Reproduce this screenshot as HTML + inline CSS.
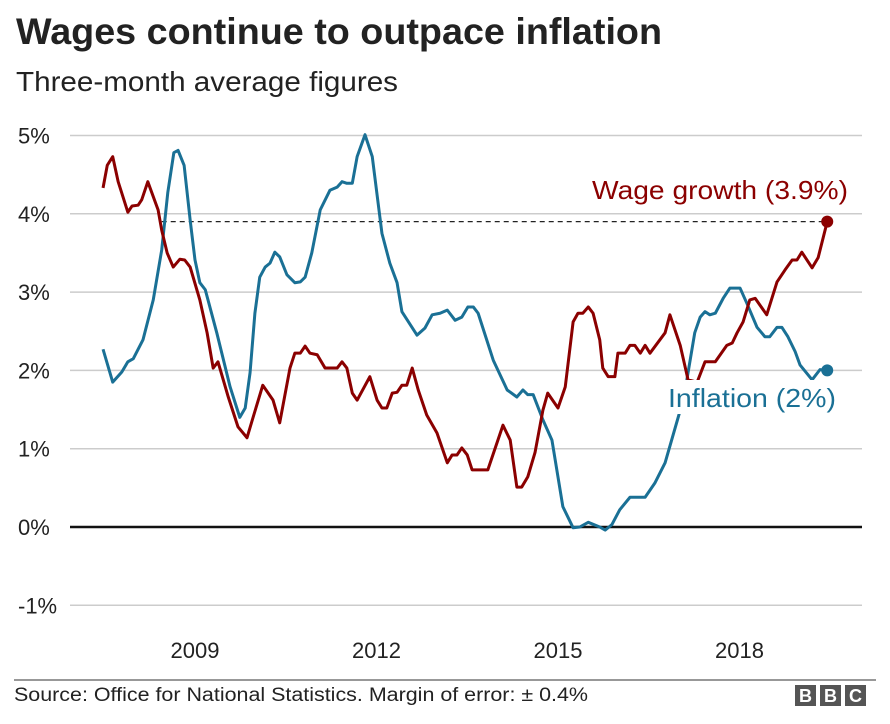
<!DOCTYPE html>
<html><head><meta charset="utf-8">
<style>
body{margin:0;background:#fff;width:890px;height:719px;overflow:hidden;font-family:"Liberation Sans",Arial,sans-serif;}
</style></head>
<body>
<svg id="chart" width="890" height="719" xmlns="http://www.w3.org/2000/svg" font-family="Liberation Sans, Arial, sans-serif">
<text x="16" y="44" font-size="37" font-weight="bold" fill="#222" textLength="646" lengthAdjust="spacingAndGlyphs">Wages continue to outpace inflation</text>
<text x="16" y="91" font-size="28" fill="#222" textLength="382" lengthAdjust="spacingAndGlyphs">Three-month average figures</text>
<g id="grid"></g>
<g id="series"></g>
<g id="labels"></g>
<line x1="14" y1="680" x2="876" y2="680" stroke="#777" stroke-width="1.5"/>
<text x="14" y="701" font-size="19" fill="#222" textLength="574" lengthAdjust="spacingAndGlyphs">Source: Office for National Statistics. Margin of error: ± 0.4%</text>
<g>
<rect x="795" y="685" width="21" height="21" fill="#555"/><rect x="820" y="685" width="21" height="21" fill="#555"/><rect x="845" y="685" width="21" height="21" fill="#555"/>
<text x="805.5" y="702" font-size="18" font-weight="bold" fill="#fff" text-anchor="middle">B</text>
<text x="830.5" y="702" font-size="18" font-weight="bold" fill="#fff" text-anchor="middle">B</text>
<text x="855.5" y="702" font-size="18" font-weight="bold" fill="#fff" text-anchor="middle">C</text>
</g>
</svg>
<script>
const yTicks = [5,4,3,2,1,0,-1];
const xTicks = [2009,2012,2015,2018];
const wageDates = [2007.48,2007.55,2007.64,2007.73,2007.89,2007.96,2008.06,2008.12,2008.22,2008.39,2008.45,2008.54,2008.64,2008.75,2008.83,2008.92,2009.08,2009.20,2009.30,2009.38,2009.55,2009.71,2009.86,2009.96,2010.12,2010.29,2010.40,2010.57,2010.65,2010.74,2010.82,2010.90,2011.02,2011.15,2011.35,2011.43,2011.51,2011.60,2011.68,2011.89,2012.01,2012.09,2012.17,2012.26,2012.34,2012.42,2012.50,2012.59,2012.69,2012.83,2013.00,2013.17,2013.25,2013.33,2013.41,2013.50,2013.58,2013.84,2014.09,2014.21,2014.32,2014.40,2014.50,2014.62,2014.75,2014.83,2015.00,2015.12,2015.25,2015.33,2015.41,2015.50,2015.58,2015.69,2015.74,2015.83,2015.94,2015.99,2016.11,2016.19,2016.27,2016.36,2016.44,2016.52,2016.77,2016.85,2017.02,2017.15,2017.30,2017.43,2017.60,2017.79,2017.88,2017.96,2018.06,2018.17,2018.26,2018.45,2018.62,2018.75,2018.87,2018.95,2019.03,2019.20,2019.30,2019.45];
const wageValues = [4.33,4.62,4.73,4.41,4.02,4.10,4.11,4.18,4.41,4.05,3.79,3.50,3.32,3.42,3.41,3.32,2.90,2.48,2.03,2.11,1.66,1.28,1.14,1.40,1.81,1.62,1.33,2.03,2.22,2.22,2.31,2.22,2.20,2.03,2.03,2.11,2.03,1.71,1.62,1.92,1.62,1.52,1.52,1.71,1.72,1.81,1.81,2.03,1.75,1.43,1.20,0.82,0.92,0.92,1.01,0.92,0.73,0.73,1.30,1.11,0.51,0.51,0.64,0.95,1.49,1.71,1.52,1.79,2.62,2.73,2.73,2.81,2.73,2.39,2.03,1.92,1.92,2.22,2.22,2.32,2.32,2.22,2.32,2.22,2.48,2.71,2.32,1.88,1.85,2.11,2.11,2.32,2.35,2.48,2.62,2.90,2.92,2.71,3.13,3.28,3.41,3.41,3.51,3.31,3.44,3.90];
const inflDates = [2007.48,2007.64,2007.79,2007.89,2007.98,2008.14,2008.31,2008.45,2008.55,2008.65,2008.72,2008.82,2008.92,2009.00,2009.08,2009.17,2009.36,2009.58,2009.74,2009.83,2009.91,2009.99,2010.07,2010.16,2010.24,2010.32,2010.40,2010.52,2010.65,2010.74,2010.82,2010.93,2011.07,2011.23,2011.35,2011.43,2011.51,2011.60,2011.68,2011.81,2011.93,2012.09,2012.22,2012.34,2012.42,2012.67,2012.80,2012.92,2013.05,2013.17,2013.30,2013.41,2013.51,2013.60,2013.68,2013.93,2014.16,2014.32,2014.42,2014.50,2014.59,2014.75,2014.90,2015.08,2015.25,2015.36,2015.50,2015.69,2015.78,2015.89,2016.02,2016.19,2016.44,2016.60,2016.77,2017.02,2017.13,2017.26,2017.35,2017.43,2017.51,2017.60,2017.73,2017.84,2018.01,2018.12,2018.29,2018.42,2018.50,2018.62,2018.70,2018.80,2018.92,2019.00,2019.20,2019.33,2019.45];
const inflValues = [2.27,1.85,1.98,2.11,2.15,2.39,2.90,3.54,4.27,4.78,4.81,4.62,3.92,3.41,3.12,3.03,2.48,1.79,1.40,1.52,1.97,2.73,3.19,3.32,3.37,3.51,3.45,3.22,3.12,3.13,3.19,3.50,4.05,4.30,4.34,4.41,4.39,4.39,4.73,5.01,4.73,3.75,3.37,3.12,2.75,2.45,2.54,2.71,2.73,2.77,2.64,2.68,2.81,2.81,2.73,2.13,1.75,1.66,1.75,1.69,1.69,1.37,1.11,0.26,-0.01,0.00,0.06,0.00,-0.04,0.03,0.22,0.38,0.38,0.56,0.82,1.49,1.88,2.48,2.68,2.75,2.71,2.73,2.92,3.05,3.05,2.86,2.55,2.43,2.43,2.55,2.55,2.43,2.24,2.07,1.88,2.01,2.00];
const wageLatest = 3.9, inflLatest = 2.0;

const X0=70, X1=862;
const xs = d => 195 + (d-2009)*60.5;
const ys = v => 527 - v*78.3;
const NS="http://www.w3.org/2000/svg";
function mk(tag, attrs, parent){const e=document.createElementNS(NS,tag);for(const k in attrs)e.setAttribute(k,attrs[k]);parent.appendChild(e);return e;}
const grid=document.getElementById('grid'), series=document.getElementById('series'), labels=document.getElementById('labels');
yTicks.forEach(t=>{
  const l=mk('line',{x1:X0,x2:X1,y1:ys(t),y2:ys(t),stroke:t===0?'#111':'#ccc','stroke-width':t===0?2.5:1.5},grid);
  
  
  const tx=mk('text',{x:18,y:ys(t)+8,'font-size':22,fill:'#222'},grid);
  tx.textContent=t+'%';
  
  
});
xTicks.forEach(t=>{
  const tx=mk('text',{x:xs(t),y:658,'font-size':22,fill:'#222','text-anchor':'middle'},grid);
  tx.textContent=t;
  
  
});
const ref=mk('line',{x1:xs(2008.45),x2:xs(2019.45),y1:ys(wageLatest),y2:ys(wageLatest),stroke:'#222','stroke-width':1.2,'stroke-dasharray':'5,4'},series);


function line(ds,vs,col,name){
  const p=mk('polyline',{points:ds.map((d,i)=>xs(d)+','+ys(vs[i])).join(' '),fill:'none',stroke:col,'stroke-width':3,'stroke-linejoin':'round'},series);
  
  
}
line(inflDates,inflValues,'#1a7095','inflation-line');
line(wageDates,wageValues,'#8b0000','wage-growth-line');
const d1=mk('circle',{cx:xs(wageDates[wageDates.length-1]),cy:ys(wageLatest),r:6,fill:'#8b0000'},series);


const d2=mk('circle',{cx:xs(inflDates[inflDates.length-1]),cy:ys(inflLatest),r:6,fill:'#1a7095'},series);


const bg=mk('rect',{x:664,y:380,width:176,height:34,fill:'#fff'},labels);


const il=mk('text',{x:668,y:407,'font-size':26,fill:'#1a7095',textLength:168,lengthAdjust:'spacingAndGlyphs'},labels);
il.textContent='Inflation (2%)';


const wl=mk('text',{x:592,y:199,'font-size':26,fill:'#8b0000',textLength:256,lengthAdjust:'spacingAndGlyphs'},labels);
wl.textContent='Wage growth (3.9%)';


</script>
</body></html>
